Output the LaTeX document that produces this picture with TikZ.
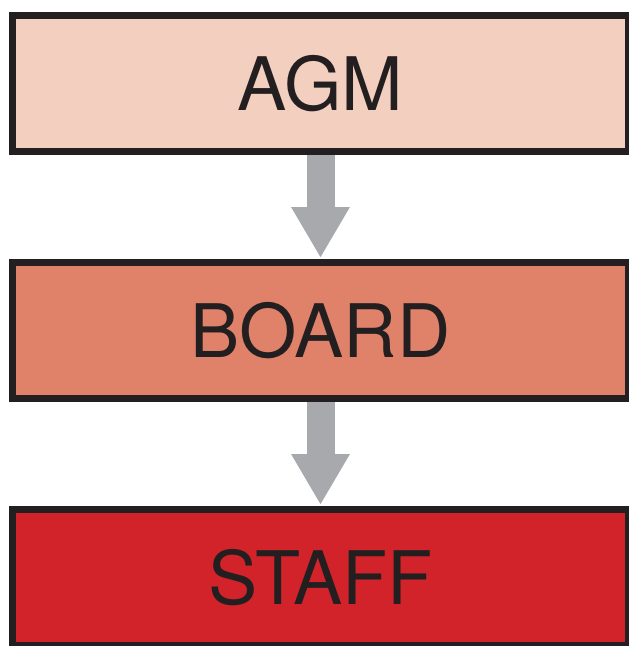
\documentclass[tikz,border=0pt]{standalone}
\usepackage{fontspec}
\setmainfont{TeX Gyre Heros}
\usetikzlibrary{positioning,arrows.meta}
\definecolor{agmfill}{HTML}{F3CFC0}
\definecolor{boardfill}{HTML}{E0826A}
\definecolor{stafffill}{HTML}{D2232A}
\definecolor{edgeblack}{HTML}{231F20}
\definecolor{arrowgray}{HTML}{A7A9AC}

\begin{document}
\begin{tikzpicture}[
    level/.style={draw=edgeblack, line width=0.14cm, minimum width=12.32cm, minimum height=2.72cm,
      inner sep=0pt, text=edgeblack, font=\fontsize{42}{42}\selectfont},
    down/.style={arrowgray, line width=0.56cm, shorten >=0.02cm,
      -{Triangle[width=1.1cm, length=1.02cm]}},
    node distance=2.08cm
  ]
  \useasboundingbox (0,0) rectangle (12.58,-12.92);
  \node [level, fill=agmfill] (agm) at (6.41,-1.67) {AGM};
  \node [level, fill=boardfill, below=of agm] (board) {BOARD};
  \node [level, fill=stafffill, below=of board] (staff) {STAFF};
  \draw [down] (agm) -- (board);
  \draw [down] (board) -- (staff);
\end{tikzpicture}
\end{document}
